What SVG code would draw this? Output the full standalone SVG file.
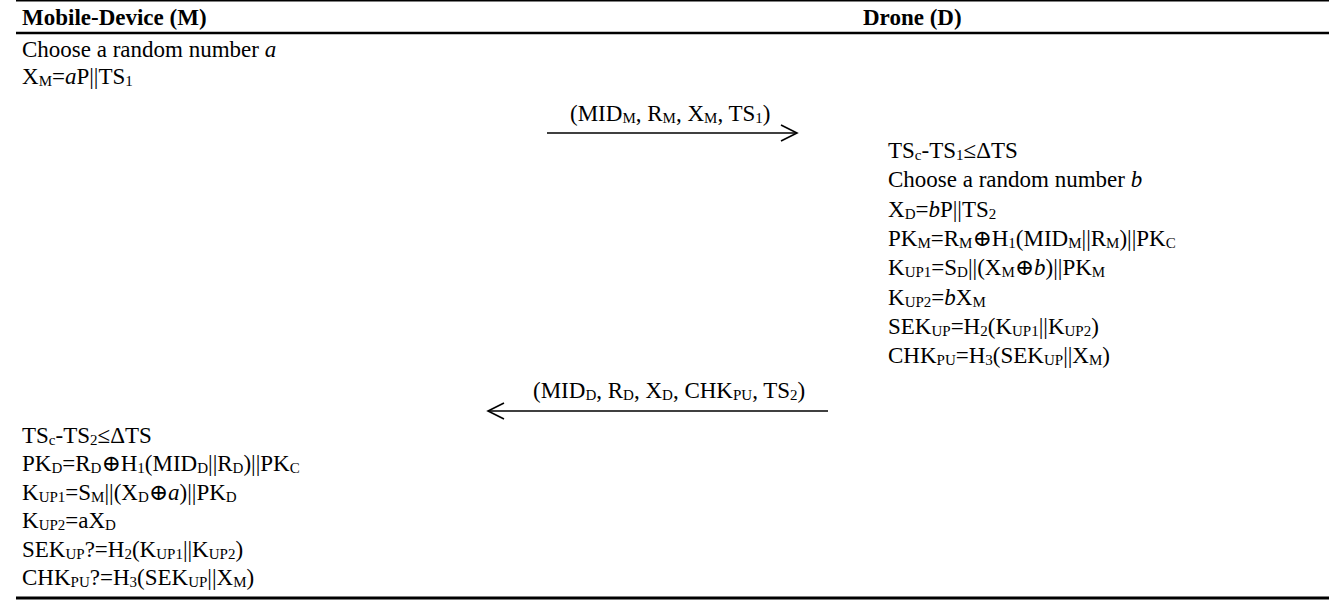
<svg xmlns="http://www.w3.org/2000/svg" width="1341" height="601" viewBox="0 0 1341 601">
<style>
text{font-family:"Liberation Serif","DejaVu Serif",serif;font-size:23px;fill:#000}
.h{font-weight:bold}
.s{font-size:15px;baseline-shift:-2px}
.i{font-style:italic}
.rule{stroke:#000}
.arr{stroke:#000;stroke-width:1.6;fill:none}
</style>
<defs>
<marker id="ah" viewBox="0 0 20 20" refX="18" refY="10" markerWidth="20" markerHeight="20" markerUnits="userSpaceOnUse" orient="auto">
<path d="M2,2 L18,10 L2,18" fill="none" stroke="#000" stroke-width="1.6"/>
</marker>
</defs>
<g id="table-rules">
<line class="rule" x1="16" y1="0.8" x2="1329" y2="0.8" stroke-width="1.6"/>
<line class="rule" x1="16" y1="33" x2="1329" y2="33" stroke-width="2.5"/>
<line class="rule" x1="16" y1="598" x2="1329" y2="598" stroke-width="3"/>
</g>
<g id="header-M"><text class="h" x="22" y="25">Mobile-Device (M)</text></g>
<g id="header-D"><text class="h" x="863" y="25">Drone (D)</text></g>
<g id="mobile-step1">
<text x="22" y="57">Choose a random number <tspan class="i">a</tspan></text>
<text x="22" y="84">X<tspan class="s">M</tspan>=<tspan class="i">a</tspan>P||TS<tspan class="s">1</tspan></text>
</g>
<g id="drone-step">
<text x="888" y="158">TS<tspan class="s">c</tspan>-TS<tspan class="s">1</tspan>≤ΔTS</text>
<text x="888" y="187.3">Choose a random number <tspan class="i">b</tspan></text>
<text x="888" y="216.6">X<tspan class="s">D</tspan>=<tspan class="i">b</tspan>P||TS<tspan class="s">2</tspan></text>
<text x="888" y="245.9">PK<tspan class="s">M</tspan>=R<tspan class="s">M</tspan>⊕H<tspan class="s">1</tspan>(MID<tspan class="s">M</tspan>||R<tspan class="s">M</tspan>)||PK<tspan class="s">C</tspan></text>
<text x="888" y="275.2">K<tspan class="s">UP1</tspan>=S<tspan class="s">D</tspan>||(X<tspan class="s">M</tspan>⊕<tspan class="i">b</tspan>)||PK<tspan class="s">M</tspan></text>
<text x="888" y="304.5">K<tspan class="s">UP2</tspan>=<tspan class="i">b</tspan>X<tspan class="s">M</tspan></text>
<text x="888" y="333.8">SEK<tspan class="s">UP</tspan>=H<tspan class="s">2</tspan>(K<tspan class="s">UP1</tspan>||K<tspan class="s">UP2</tspan>)</text>
<text x="888" y="363.1">CHK<tspan class="s">PU</tspan>=H<tspan class="s">3</tspan>(SEK<tspan class="s">UP</tspan>||X<tspan class="s">M</tspan>)</text>
</g>
<g id="mobile-step2">
<text x="22" y="443">TS<tspan class="s">c</tspan>-TS<tspan class="s">2</tspan>≤ΔTS</text>
<text x="22" y="471.4">PK<tspan class="s">D</tspan>=R<tspan class="s">D</tspan>⊕H<tspan class="s">1</tspan>(MID<tspan class="s">D</tspan>||R<tspan class="s">D</tspan>)||PK<tspan class="s">C</tspan></text>
<text x="22" y="499.8">K<tspan class="s">UP1</tspan>=S<tspan class="s">M</tspan>||(X<tspan class="s">D</tspan>⊕<tspan class="i">a</tspan>)||PK<tspan class="s">D</tspan></text>
<text x="22" y="528.2">K<tspan class="s">UP2</tspan>=aX<tspan class="s">D</tspan></text>
<text x="22" y="556.6">SEK<tspan class="s">UP</tspan>?=H<tspan class="s">2</tspan>(K<tspan class="s">UP1</tspan>||K<tspan class="s">UP2</tspan>)</text>
<text x="22" y="585">CHK<tspan class="s">PU</tspan>?=H<tspan class="s">3</tspan>(SEK<tspan class="s">UP</tspan>||X<tspan class="s">M</tspan>)</text>
</g>
<g id="connectors">
<line class="arr" x1="547" y1="133" x2="797" y2="133" marker-end="url(#ah)"/>
<text x="570" y="121">(MID<tspan class="s">M</tspan>, R<tspan class="s">M</tspan>, X<tspan class="s">M</tspan>, TS<tspan class="s">1</tspan>)</text>
<line class="arr" x1="828" y1="411" x2="488" y2="411" marker-end="url(#ah)"/>
<text x="533" y="398">(MID<tspan class="s">D</tspan>, R<tspan class="s">D</tspan>, X<tspan class="s">D</tspan>, CHK<tspan class="s">PU</tspan>, TS<tspan class="s">2</tspan>)</text>
</g>
</svg>
